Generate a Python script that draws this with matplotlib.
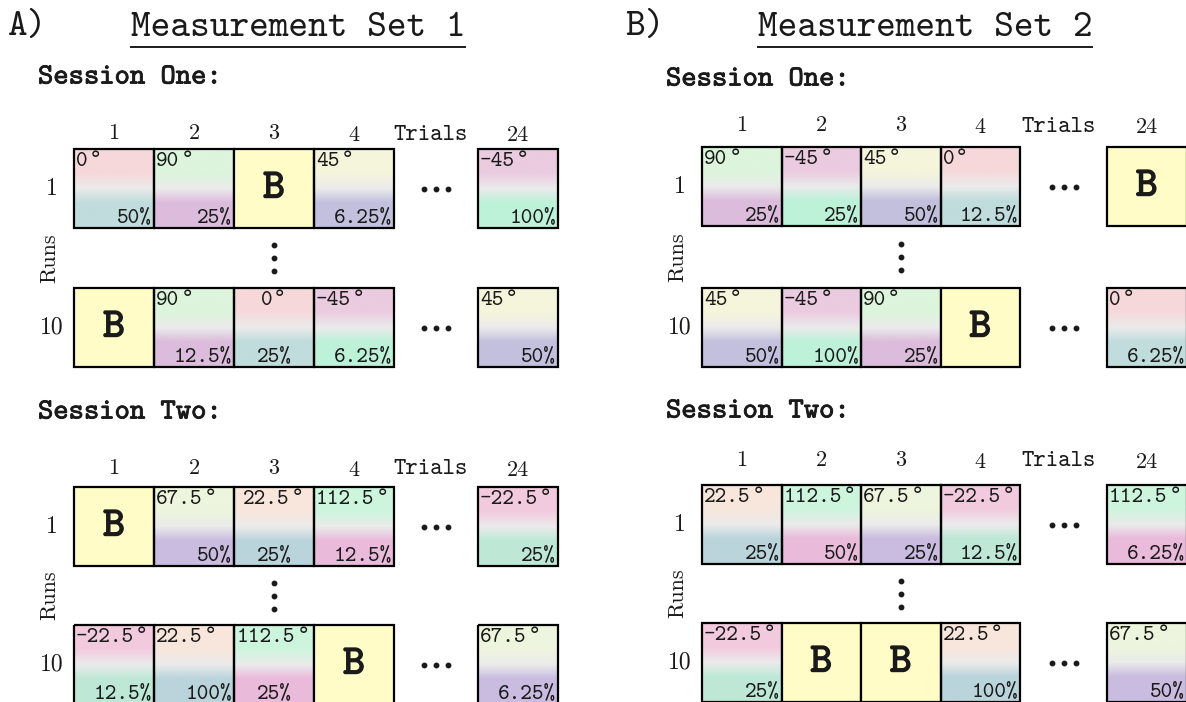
import numpy as np
import matplotlib.pyplot as plt
import matplotlib.patheffects as pe
from matplotlib.colors import to_rgb
from matplotlib.patches import Rectangle

# ── Data ─────────────────────────────────────────────────────────────────────
trial_labels = ["1", "2", "3", "4", "24"]
run_labels = ["1", "10"]

# Measurement set 1 (A)
a_s1_run1_ang = ["0°", "90°", "B", "45°", "-45°"]
a_s1_run1_pct = ["50%", "25%", "", "6.25%", "100%"]
a_s1_run10_ang = ["B", "90°", "0°", "-45°", "45°"]
a_s1_run10_pct = ["", "12.5%", "25%", "6.25%", "50%"]
a_s2_run1_ang = ["B", "67.5°", "22.5°", "112.5°", "-22.5°"]
a_s2_run1_pct = ["", "50%", "25%", "12.5%", "25%"]
a_s2_run10_ang = ["-22.5°", "22.5°", "112.5°", "B", "67.5°"]
a_s2_run10_pct = ["12.5%", "100%", "25%", "", "6.25%"]

# Measurement set 2 (B)
b_s1_run1_ang = ["90°", "-45°", "45°", "0°", "B"]
b_s1_run1_pct = ["25%", "25%", "50%", "12.5%", ""]
b_s1_run10_ang = ["45°", "-45°", "90°", "B", "0°"]
b_s1_run10_pct = ["50%", "100%", "25%", "", "6.25%"]
b_s2_run1_ang = ["22.5°", "112.5°", "67.5°", "-22.5°", "112.5°"]
b_s2_run1_pct = ["25%", "50%", "25%", "12.5%", "6.25%"]
b_s2_run10_ang = ["-22.5°", "B", "B", "22.5°", "67.5°"]
b_s2_run10_pct = ["25%", "", "", "100%", "50%"]

# ── Styles ───────────────────────────────────────────────────────────────────
TOP = {"0°": "#f6d8da", "90°": "#dcf5dc", "45°": "#f5f5dc", "-45°": "#eacbe0",
       "67.5°": "#edf5dd", "22.5°": "#f8e6dc", "112.5°": "#cdf5dd", "-22.5°": "#f2cade"}
BOT = {"0°": "#c0dcdc", "90°": "#dcbcdc", "45°": "#c3c0de", "-45°": "#bdf2d9",
       "67.5°": "#cabce0", "22.5°": "#bad4dc", "112.5°": "#eabadb", "-22.5°": "#bee8d6"}
MID = "#ebebeb"
B_FILL = "#fffcc8"
INK = "#1a1a1a"

TT = ["cmtt10", "DejaVu Sans Mono"]
RM = ["cmr10", "DejaVu Serif"]
FS = 16

W, H = 1186, 702
fig = plt.figure(figsize=(W / 100, H / 100), dpi=100)
ax = fig.add_axes([0, 0, 1, 1])
ax.axis("off")
ax.set_xlim(0, W)
ax.set_ylim(H, 0)
renderer = fig.canvas.get_renderer()


def bold(lw):
    return [pe.withStroke(linewidth=lw, foreground=INK)]


def gradient(top, bottom, n=120):
    t = np.linspace(0, 1, n)
    stops = [0, 0.3, 0.5, 0.68, 1]
    rgb = np.array([to_rgb(c) for c in [top, top, MID, bottom, bottom]])
    arr = np.stack([np.interp(t, stops, rgb[:, k]) for k in range(3)], axis=1)
    return arr[:, None, :]


def angle_text(x, w, y_base, ang, center):
    # typewriter digits + a degree ring taken from DejaVu (cmtt10 has no °)
    num = ang.rstrip("°")
    t = ax.text(0, y_base, num, ha="left", va="baseline", fontsize=FS, family=TT, color=INK, zorder=4)
    d = ax.text(0, y_base, "°", ha="left", va="baseline", fontsize=16,
                family="DejaVu Sans Mono", color=INK, zorder=4)
    wn = t.get_window_extent(renderer).width
    wd = d.get_window_extent(renderer).width
    start = x + w / 2 - (wn + wd + 2) / 2 if center else x + 2
    t.set_x(start)
    d.set_x(start + wn + 1)


def draw_cell(x, y, w, h, ang, pct, center):
    if ang == "B":
        ax.add_patch(Rectangle((x, y), w, h, fc=B_FILL, ec="k", lw=1.6, zorder=3))
        ax.text(x + w / 2, y + h / 2 + 1, "B", fontsize=30, family=TT, color=INK,
                ha="center", va="center", path_effects=bold(1.0), zorder=4)
        return
    ax.imshow(gradient(TOP[ang], BOT[ang]), extent=(x, x + w, y + h, y),
              aspect="auto", interpolation="bilinear", zorder=1)
    ax.add_patch(Rectangle((x, y), w, h, fc="none", ec="k", lw=1.6, zorder=3))
    angle_text(x, w, y + 17, ang, center)
    if center:
        ax.text(x + w / 2, y + h - 1, pct, ha="center", va="bottom", fontsize=FS, family=TT, color=INK, zorder=4)
    else:
        ax.text(x + w - 2, y + h - 1, pct, ha="right", va="bottom", fontsize=FS, family=TT, color=INK, zorder=4)


panels = [
    dict(tag="A)", title="Measurement Set 1", tag_x=8, title_x=298, x0=74, w=80, gap=84,
         center_col=2,
         sessions=[("Session One:", 78, 133, 149, 288,
                    [(a_s1_run1_ang, a_s1_run1_pct), (a_s1_run10_ang, a_s1_run10_pct)]),
                   ("Session Two:", 413, 468, 487, 625,
                    [(a_s2_run1_ang, a_s2_run1_pct), (a_s2_run10_ang, a_s2_run10_pct)])]),
    dict(tag="B)", title="Measurement Set 2", tag_x=625, title_x=925, x0=702, w=79.5, gap=87,
         center_col=None,
         sessions=[("Session One:", 80, 125, 147, 288,
                    [(b_s1_run1_ang, b_s1_run1_pct), (b_s1_run10_ang, b_s1_run10_pct)]),
                   ("Session Two:", 412, 460, 485, 623,
                    [(b_s2_run1_ang, b_s2_run1_pct), (b_s2_run10_ang, b_s2_run10_pct)])]),
]

titles = []
h = 79
for p in panels:
    x0, w = p["x0"], p["w"]
    xs = [x0 + i * w for i in range(4)] + [x0 + 4 * w + p["gap"]]
    ax.text(p["tag_x"], 28, p["tag"], fontsize=27, family=TT, ha="left", va="center", color=INK)
    titles.append(ax.text(p["title_x"], 28, p["title"], fontsize=27, family=TT,
                          ha="center", va="center", color=INK))
    for name, y_name, y_head, y_r1, y_r10, rows in p["sessions"]:
        ax.text(x0 - 36, y_name, name, fontsize=21, family=TT, ha="left", va="center",
                color=INK, path_effects=bold(0.6))
        for i, lab in enumerate(trial_labels):
            dy = 2 if i >= 3 else 0
            ax.text(xs[i] + w / 2, y_head + dy, lab, fontsize=16, family=RM,
                    ha="center", va="center", color=INK)
        ax.text(x0 + 4 * w + p["gap"] / 2 - 5, y_head + 2, "Trials", fontsize=17, family=TT,
                ha="center", va="center", color=INK)
        for (angs, pcts), y, rl in zip(rows, [y_r1, y_r10], run_labels):
            ax.text(x0 - 22, y + h / 2, rl, fontsize=17, family=RM, ha="center", va="center", color=INK)
            for i in range(5):
                draw_cell(xs[i], y, w, h, angs[i], pcts[i], i == p["center_col"])
            hx = x0 + 4 * w + p["gap"] / 2
            ax.plot([hx - 12, hx, hx + 12], [y + h / 2] * 3, "o", ms=3.2, color=INK, zorder=4)
        vy = (y_r1 + h + y_r10) / 2
        vx = x0 + 2.5 * w
        ax.plot([vx] * 3, [vy - 13, vy, vy + 13], "o", ms=3.2, color=INK, zorder=4)
        ax.text(x0 - 24, vy, "Runs", fontsize=16, family=RM, rotation=90,
                ha="center", va="center", color=INK)

ax.set_xlim(0, W)
ax.set_ylim(H, 0)

# underline the titles
inv = ax.transData.inverted()
for t in titles:
    bb = t.get_window_extent(renderer)
    (xa, _), (xb, _) = inv.transform([(bb.x0, bb.y0), (bb.x1, bb.y0)])
    ax.plot([xa, xb], [47, 47], color=INK, lw=1.4)

fig.savefig("out.png", dpi=100)
